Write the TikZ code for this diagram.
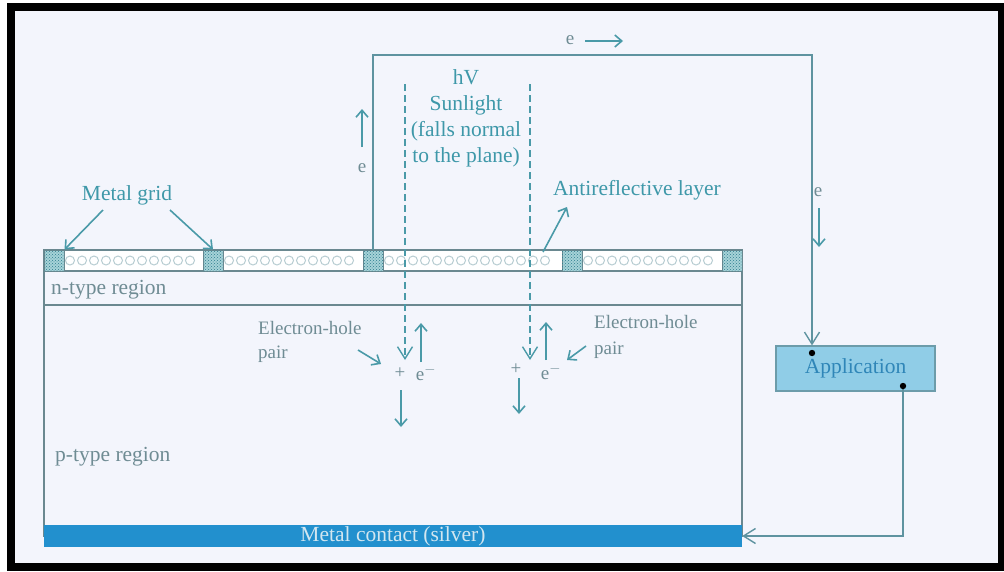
\documentclass[tikz,border=0pt]{standalone}
\usepackage{fontspec}
\setmainfont{Liberation Serif}
\usepackage{xcolor}
\usetikzlibrary{arrows.meta,patterns}

\definecolor{bgcol}{HTML}{F3F5FC}
\definecolor{tealtext}{HTML}{3E98A9}
\definecolor{graytext}{HTML}{6F8C94}
\definecolor{lineteal}{HTML}{4A9AA8}
\definecolor{wirecol}{HTML}{5E93A0}
\definecolor{cellline}{HTML}{6A8890}
\definecolor{contactblue}{HTML}{2290CE}
\definecolor{contacttext}{HTML}{D2E6F0}
\definecolor{appfill}{HTML}{90CDE7}
\definecolor{appline}{HTML}{6C9CAA}
\definecolor{apptext}{HTML}{2F86B8}
\definecolor{gridfill}{HTML}{A6D2D8}
\definecolor{griddot}{HTML}{2C7F8E}
\definecolor{layerdot}{HTML}{B8CDD2}

\begin{document}
\begin{tikzpicture}[
    x=1pt, y=1pt, yscale=-1, xscale=1,
    every node/.style={font=\fontsize{21.5}{26}\selectfont, inner sep=1pt},
    lbl/.style={text=tealtext},
    glbl/.style={text=graytext},
    small/.style={font=\fontsize{19}{24}\selectfont, text=graytext},
    wire/.style={draw=wirecol, line width=1.4pt},
    arr/.style={draw=lineteal, line width=1.6pt, -{Straight Barb[length=7pt,width=12pt]}},
    ray/.style={draw=lineteal, line width=1.4pt, dash pattern=on 7pt off 4pt,
                -{Straight Barb[length=12pt,width=15pt]}},
    gridbox/.style={draw=cellline, fill=gridfill, line width=1pt,
                postaction={pattern=crosshatch dots, pattern color=griddot},
                minimum width=20pt, minimum height=21pt, inner sep=0pt},
    appbox/.style={draw=appline, fill=appfill, line width=1.2pt, text=apptext,
                minimum width=159pt, minimum height=45pt},
    contactbar/.style={fill=contactblue, text=contacttext,
                minimum width=698pt, minimum height=22pt, inner sep=0pt}
]
\useasboundingbox (0,0) rectangle (1004,571);

%==================== Frame ====================
\fill[white] (0,0) rectangle (1004,571);
\fill[black] (7,3) rectangle (1004,571);
\fill[bgcol] (15,11) rectangle (998,563);

%==================== Cell ====================
\draw[cellline, line width=1.2pt] (44,250) rectangle (742,536);
\draw[cellline, line width=1.2pt, fill=white] (44,250) rectangle (742,271);
\draw[cellline, line width=1.2pt] (44,305) -- (742,305);

% antireflective layer
\foreach \xa/\xb in {70/198,229/357,389/556,588/716} {
    \pgfmathtruncatemacro\xn{\xa+12}
    \foreach \x in {\xa,\xn,...,\xb}
        \draw[layerdot, line width=1pt] (\x,260.5) circle (4.5);
}

% metal grid
\node[gridbox] (g1) at (54,260.5)  {};
\node[gridbox] (g2) at (213,260.5) {};
\node[gridbox] (g3) at (373,260.5) {};
\node[gridbox] (g4) at (572,260.5) {};
\node[gridbox] (g5) at (732,260.5) {};

% metal contact
\node[contactbar] (contact) at (393,536) {Metal contact (silver)};

%==================== Application + wires ====================
\node[appbox] (app) at (855.5,368.5) {Application};

\coordinate (tr) at (812,55);
\coordinate (appin) at (812,353);
\coordinate (appout) at (903,386);
\draw[wire, -{Straight Barb[length=12pt,width=15pt]}] (g3.north) |- (tr) -- (tr |- app.north);
\draw[wire, -{Straight Barb[length=12pt,width=15pt]}] (appout) -- (appout |- contact.east) -- (contact.east);
\fill (appin) circle (3.2);
\fill (appout) circle (3.2);

% electron flow
\node[small] (etop) at (570,40) {e};
\draw[arr] (585,41) -- (623,41);
\node[small] (eleft) at (362,168) {e};
\draw[arr] (362,147) -- (362,109);
\node[small] (eright) at (818,192) {e};
\draw[arr] (819,208) -- (819,247);

%==================== Sunlight ====================
\node[lbl, align=center] (sun) at (466,118) {hV\\Sunlight\\(falls normal\\to the plane)};
\draw[ray] (405,84) -- (405,360);
\draw[ray] (530,84) -- (530,360);

%==================== Electron-hole pairs ====================
\node[small, anchor=west, align=left] (eh1) at (257,342) {Electron-hole\\pair};
\node[small, anchor=west, align=left] (eh2) at (593,337) {Electron-hole\\[2pt]pair};
\draw[arr] (358,350) -- (381,364);
\draw[arr] (586,346) -- (567,360);

% left pair
\draw[arr] (421,362) -- (421,323);
\node[small] (h1) at (400,373) {+};
\node[small] (e1) at (426,373) {e$^{-}$};
\draw[arr] (401,390) -- (401,427);

% right pair
\draw[arr] (546,360) -- (546,322);
\node[small] (h2) at (516,369) {+};
\node[small] (e2) at (551,372) {e$^{-}$};
\draw[arr] (519,378) -- (519,414);

%==================== Labels ====================
\node[lbl] (mg) at (127,195) {Metal grid};
\draw[arr] (103,210) -- (g1.north east);
\draw[arr] (170,210) -- (g2.north);

\node[lbl] (ar) at (637,190) {Antireflective layer};
\coordinate (arpt) at (543,252);
\draw[arr] (arpt) -- (567,207);

\node[glbl, anchor=west] (nreg) at (50,290) {n-type region};
\node[glbl, anchor=west] (preg) at (54,457) {p-type region};

\end{tikzpicture}
\end{document}
